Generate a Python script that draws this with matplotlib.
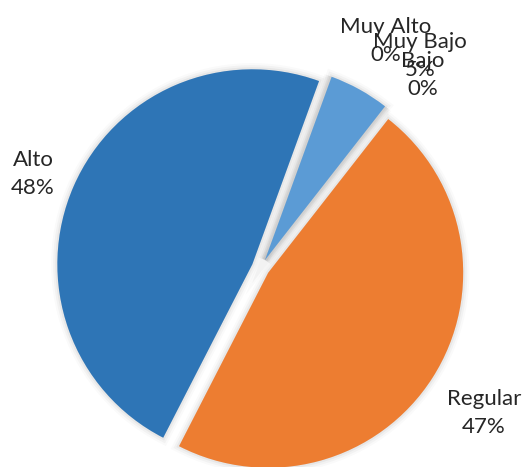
import matplotlib
matplotlib.use("Agg")
import matplotlib.pyplot as plt
import matplotlib.patheffects as pe

# nivel de satisfaccion
categorias = ["Muy Alto", "Alto", "Regular", "Bajo", "Muy Bajo"]
porcentajes = [0, 48, 47, 0, 5]
colores = ["#4472C4", "#2E75B6", "#ED7D31", "#A5A5A5", "#5B9BD5"]
# label anchors (pixels from top-left)
pos_etiquetas = [(386, 41), (33, 174), (484, 413), (423, 75), (420, 56)]

W, H = 523, 467
fig = plt.figure(figsize=(W / 100, H / 100), dpi=100)
ax = fig.add_axes([0, 0, 1, 1])

# explode is in data units here (pixels)
explode = [9] * len(porcentajes)
wedges, _ = ax.pie(porcentajes, colors=colores, explode=explode,
                   startangle=70, counterclock=True,
                   center=(260.6, H - 267.9), radius=195,
                   wedgeprops=dict(linewidth=0))

# soft glow around the slices
halo = [pe.Stroke(linewidth=9, foreground="black", alpha=0.02),
        pe.Stroke(linewidth=6, foreground="black", alpha=0.03),
        pe.Stroke(linewidth=3, foreground="black", alpha=0.045),
        pe.Normal()]
for w in wedges:
  w.set_path_effects(halo)

for cat, val, (x, y) in zip(categorias, porcentajes, pos_etiquetas):
  ax.text(x, H - y, "%s\n%d%%" % (cat, val), ha="center", va="center",
          fontsize=16, family="Lato", color="#262626", linespacing=1.55)

ax.set_xlim(0, W)
ax.set_ylim(0, H)
ax.axis("off")
fig.savefig("out.png", dpi=100)
